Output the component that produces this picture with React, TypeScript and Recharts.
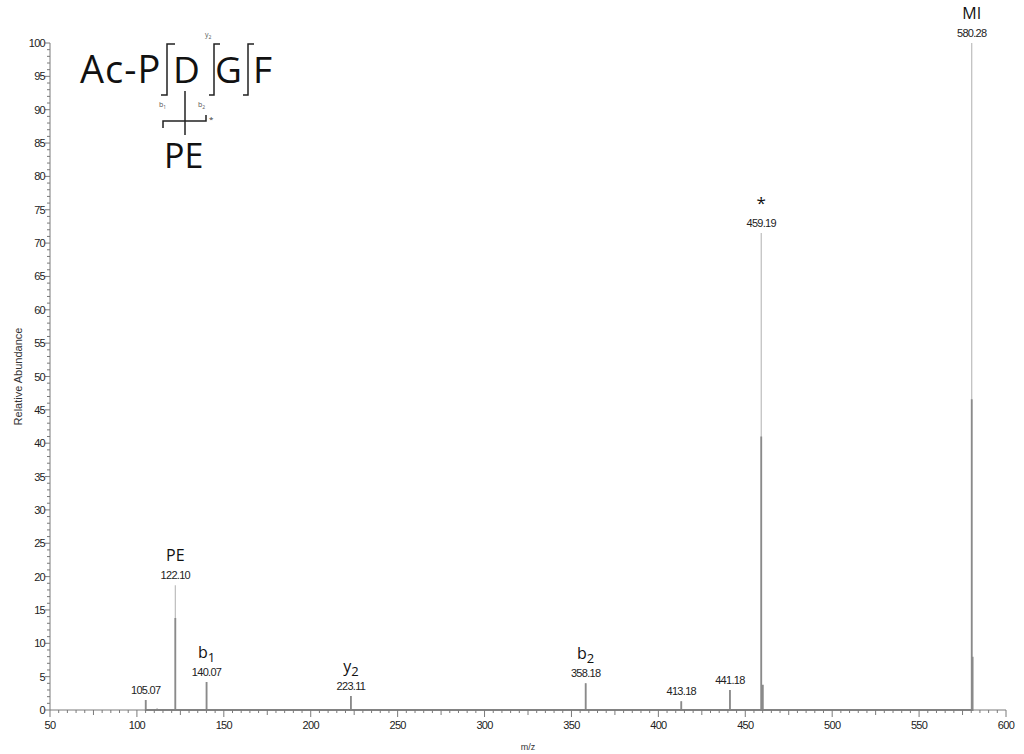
import React from 'react';
import { ComposedChart, Line, Scatter, XAxis, YAxis, Customized } from 'recharts';

// peak list (m/z, relative abundance)
const PEAK_MZ = [105.07, 111.6, 122.1, 140.07, 223.11, 358.18, 413.18, 441.18, 459.19, 580.28];
const PEAK_TOP = [1.5, 0.3, 18.7, 4.2, 2.1, 4.0, 1.3, 3.0, 71.5, 100];

// darker, denser lower part of the sticks
const CORE_MZ = [105.07, 122.1, 140.07, 223.11, 358.18, 413.18, 441.18, 459.19, 460.1, 580.28, 580.8];
const CORE_TOP = [1.5, 13.8, 4.2, 2.1, 4.0, 1.3, 3.0, 41, 3.8, 46.6, 8];

const LABEL_MZ = [105.07, 122.1, 140.07, 223.11, 358.18, 413.18, 441.18, 459.19, 580.28];
const LABEL_TEXT = ['105.07', '122.10', '140.07', '223.11', '358.18', '413.18', '441.18', '459.19', '580.28'];
const ION_NAME = ['', 'PE', 'b', 'y', 'b', '', '', '*', 'MI'];
const ION_SUB = ['', '', '1', '2', '2', '', '', '', ''];

const X_LABELS = [50, 100, 150, 200, 250, 300, 350, 400, 450, 500, 550, 600];
const Y_LABELS = [0, 5, 10, 15, 20, 25, 30, 35, 40, 45, 50, 55, 60, 65, 70, 75, 80, 85, 90, 95, 100];

const AXIS = '#7a7a7a';
const TICK_FONT = '"Liberation Sans", Arial, sans-serif';
const BIG_FONT = '"Open Sans", "DejaVu Sans", sans-serif';

const sticks = (mz: number[], top: number[]) => {
  const pts: { x: number; y: number }[] = [];
  mz.forEach((m, i) => {
    pts.push({ x: m, y: 0 }, { x: m, y: top[i] }, { x: m, y: 0 });
  });
  return pts;
};

const lightData = sticks(PEAK_MZ, PEAK_TOP);
const coreData = sticks(CORE_MZ, CORE_TOP);
const labelData = LABEL_MZ.map((m, i) => ({
  x: m,
  y: PEAK_TOP[PEAK_MZ.indexOf(m)],
  text: LABEL_TEXT[i],
  ion: ION_NAME[i],
  sub: ION_SUB[i],
}));

const xTicks: number[] = [];
for (let v = 50; v <= 600; v += 5) xTicks.push(v);
const yTicks: number[] = [];
for (let v = 0; v <= 100; v += 1) yTicks.push(v);

const XTick = ({ x, y, payload }: any) => {
  const v = payload.value;
  const major = X_LABELS.includes(v);
  const len = major ? 7 : v % 25 === 0 ? 5 : 3;
  return (
    <g>
      <line x1={x} x2={x} y1={y} y2={y + len} stroke={AXIS} strokeWidth={1} />
      {major && (
        <text x={x} y={y + 19} textAnchor="middle" fontSize={11} fontFamily={TICK_FONT} letterSpacing={-0.7} fill="#222">
          {v}
        </text>
      )}
    </g>
  );
};

const YTick = ({ x, y, payload }: any) => {
  const v = payload.value;
  const major = Y_LABELS.includes(v);
  return (
    <g>
      <line x1={x} x2={x - (major ? 5 : 3)} y1={y} y2={y} stroke={AXIS} strokeWidth={1} />
      {major && (
        <text x={x - 5} y={y + 4} textAnchor="end" fontSize={11} fontFamily={TICK_FONT} letterSpacing={-0.7} fill="#222">
          {v}
        </text>
      )}
    </g>
  );
};

const PeakLabel = ({ cx, cy, payload }: any) => (
  <g>
    <text x={cx} y={cy - 6} textAnchor="middle" fontSize={11} fontFamily={TICK_FONT} letterSpacing={-0.7} fill="#222">
      {payload.text}
    </text>
    {payload.ion && (
      <text x={cx} y={cy - 24} textAnchor="middle" fontSize={payload.ion === '*' ? 17 : 16} fontFamily={BIG_FONT} fill="#111">
        {payload.ion}
        {payload.sub && (
          <tspan fontSize={13} dy={4}>
            {payload.sub}
          </tspan>
        )}
      </text>
    )}
  </g>
);

const Structure = () => (
  <g stroke="#222" strokeWidth={1.5} fill="none">
    <text x={80} y={83} fontSize={38} letterSpacing={1} fontFamily={BIG_FONT} fill="#111" stroke="none">Ac-P</text>
    <text x={173} y={83} fontSize={37} fontFamily={BIG_FONT} fill="#111" stroke="none">D</text>
    <text x={215} y={83} fontSize={37} fontFamily={BIG_FONT} fill="#111" stroke="none">G</text>
    <text x={253} y={83} fontSize={37} fontFamily={BIG_FONT} fill="#111" stroke="none">F</text>
    <polyline points="175,44 167,44 167,95 161,95" />
    <polyline points="220,44 214,44 214,95 209,95" />
    <polyline points="254,44 248,44 248,95 243,95" />
    <text x={205} y={37} fontSize={7} fontFamily={BIG_FONT} fill="#555" stroke="none">y<tspan fontSize={5} dy={2}>2</tspan></text>
    <text x={159} y={107} fontSize={7} fontFamily={BIG_FONT} fill="#555" stroke="none">b<tspan fontSize={5} dy={2}>1</tspan></text>
    <text x={198} y={107} fontSize={7} fontFamily={BIG_FONT} fill="#555" stroke="none">b<tspan fontSize={5} dy={2}>2</tspan></text>
    <line x1={185} x2={185} y1={91} y2={135} />
    <polyline points="163,128 163,121 206,121 206,115" />
    <text x={209} y={122} fontSize={8} fontFamily={BIG_FONT} fill="#333" stroke="none">*</text>
    <text x={164} y={168} fontSize={34} fontFamily={BIG_FONT} fill="#111" stroke="none">PE</text>
  </g>
);

export default function App() {
  return (
    <div style={{ position: 'absolute', left: 0, top: 0, background: '#fff' }}>
      <ComposedChart width={1024} height={754} margin={{ top: 43, right: 18, bottom: 14, left: 10 }}>
        <XAxis
          type="number"
          dataKey="x"
          domain={[50, 600]}
          ticks={xTicks}
          interval={0}
          tickSize={0}
          tickMargin={0}
          tickLine={false}
          tick={<XTick />}
          stroke={AXIS}
          height={30}
          label={{ value: 'm/z', position: 'insideBottom', offset: -10, fontSize: 9, fontFamily: TICK_FONT, fill: '#333' }}
        />
        <YAxis
          type="number"
          dataKey="y"
          domain={[0, 100]}
          ticks={yTicks}
          interval={0}
          tickSize={0}
          tickMargin={0}
          tickLine={false}
          tick={<YTick />}
          stroke={AXIS}
          width={40}
          label={{ value: 'Relative Abundance', angle: -90, position: 'insideLeft', offset: 0, dx: 8, fontSize: 11, fontFamily: TICK_FONT, fill: '#333', style: { textAnchor: 'middle' } }}
        />
        <Line data={lightData} dataKey="y" type="linear" stroke="#bdbdbd" strokeWidth={1.2} dot={false} isAnimationActive={false} />
        <Line data={coreData} dataKey="y" type="linear" stroke="#8a8a8a" strokeWidth={1.8} dot={false} isAnimationActive={false} />
        <Scatter data={labelData} dataKey="y" shape={<PeakLabel />} isAnimationActive={false} />
        <Customized component={<Structure />} />
      </ComposedChart>
    </div>
  );
}
